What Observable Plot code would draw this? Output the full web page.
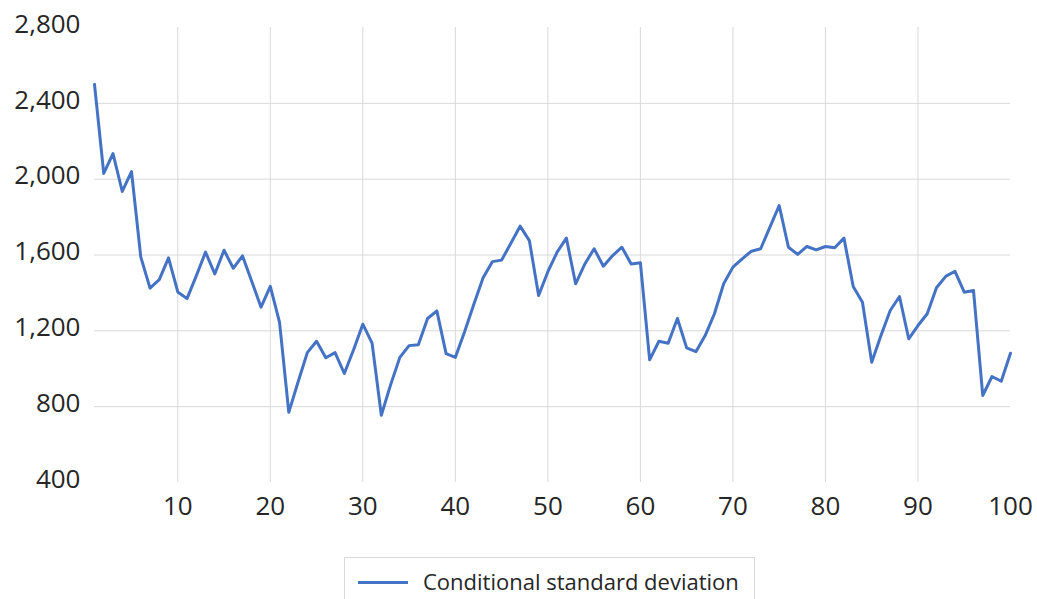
<!DOCTYPE html>
<html><head><meta charset="utf-8">
<script src="https://cdn.jsdelivr.net/npm/d3@7"></script>
<script src="https://cdn.jsdelivr.net/npm/@observablehq/plot@0.6"></script>
<style>
body{margin:0;background:#fff;font-family:"Open Sans",sans-serif;}
#wrap{position:relative;width:1037px;height:599px;overflow:hidden;background:#fff}
#legend{position:absolute;left:344px;top:557px;width:411px;height:60px;border:1px solid #d9d9d9;box-sizing:border-box;background:#fff}
#legend .sw{position:absolute;left:13px;top:23px;width:50px;height:0;border-top:3px solid #4472C4}
#legend .tx{position:absolute;left:78px;top:8px;font-size:22px;color:#262626;white-space:nowrap;line-height:30px}
</style>
</head><body>
<div id="wrap"><div id="chart"></div>
<div id="legend"><div class="sw"></div><div class="tx">Conditional standard deviation</div></div>
</div>
<script>
const periods = d3.range(1, 101);
const conditionalSD = [
 2500,2030,2135,1935,2040,1590,1425,1470,1585,1405,
 1370,1490,1615,1500,1625,1530,1595,1460,1325,1435,
 1245,770,930,1085,1145,1058,1085,975,1100,1235,
 1135,755,915,1060,1122,1127,1265,1305,1080,1060,
 1195,1340,1480,1565,1573,1662,1752,1676,1386,1512,
 1615,1689,1448,1553,1633,1541,1597,1641,1553,1559,
 1047,1145,1135,1265,1110,1090,1175,1290,1448,1536,
 1580,1620,1633,1747,1861,1641,1603,1645,1627,1645,
 1638,1689,1434,1351,1034,1175,1307,1381,1158,1228,
 1290,1427,1487,1514,1404,1413,859,959,934,1082
];
const yTicks = [400, 800, 1200, 1600, 2000, 2400, 2800];
const yGrid = [800, 1200, 1600, 2000, 2400];
const xTicks = [10, 20, 30, 40, 50, 60, 70, 80, 90, 100];
const xGrid = [10, 20, 30, 40, 50, 60, 70, 80, 90];

const data = periods.map((p, i) => ({period: p, value: conditionalSD[i]}));

const chart = Plot.plot({
  width: 1037, height: 540,
  marginTop: 27, marginBottom: 58, marginLeft: 94, marginRight: 27,
  x: {domain: [1, 100]},
  y: {domain: [400, 2800]},
  style: {fontFamily: "Open Sans", fontSize: "26px", color: "#262626", background: "white"},
  marks: [
    Plot.ruleY(yGrid, {stroke: "#d9d9d9", strokeWidth: 1}),
    Plot.ruleX(xGrid, {stroke: "#d9d9d9", strokeWidth: 1}),
    Plot.axisY({ticks: yTicks, tickSize: 0, tickPadding: 14, tickFormat: d3.format(","), label: null, dy: -3, fontSize: 26}),
    Plot.axisX({ticks: xTicks, tickSize: 0, tickPadding: 14, label: null, fontSize: 26}),
    Plot.line(data, {x: "period", y: "value", stroke: "#4472C4", strokeWidth: 3, strokeLinejoin: "round"})
  ]
});
document.getElementById("chart").appendChild(chart);
</script>
</body></html>
